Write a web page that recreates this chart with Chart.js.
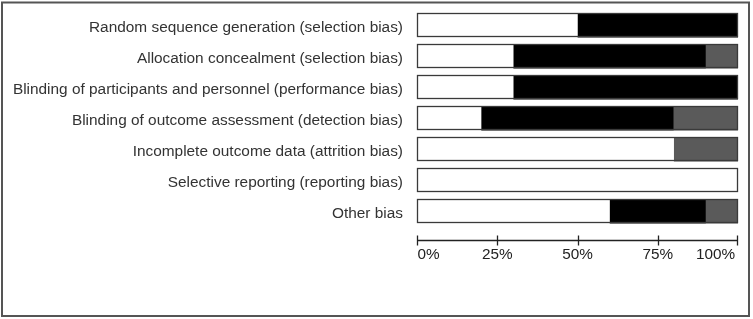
<!DOCTYPE html>
<html>
<head>
<meta charset="utf-8">
<script src="https://cdn.jsdelivr.net/npm/chart.js@4/dist/chart.umd.min.js"></script>
<style>
html,body{margin:0;padding:0;background:#fff;}
canvas{display:block;}
</style>
</head>
<body>
<canvas id="c" width="753" height="319"></canvas>
<script>
const categories = [
  "Random sequence generation (selection bias)",
  "Allocation concealment (selection bias)",
  "Blinding of participants and personnel (performance bias)",
  "Blinding of outcome assessment (detection bias)",
  "Incomplete outcome data (attrition bias)",
  "Selective reporting (reporting bias)",
  "Other bias"
];
const whiteValues = [50, 30, 30, 20, 80, 100, 60];
const blackValues = [50, 60, 70, 60, 0, 0, 30];
const grayValues  = [0, 10, 0, 20, 20, 0, 10];
const tickValues = [0, 25, 50, 75, 100];
const tickLabels = ["0%", "25%", "50%", "75%", "100%"];

const frameAndAxis = {
  id: 'frameAndAxis',
  beforeDraw(chart) {
    const ctx = chart.ctx;
    ctx.save();
    ctx.fillStyle = '#fff';
    ctx.fillRect(0, 0, chart.width, chart.height);
    ctx.strokeStyle = '#555';
    ctx.lineWidth = 2;
    ctx.strokeRect(2, 2.5, 747, 313.5);
    ctx.restore();
  },
  afterDatasetsDraw(chart) {
    const ctx = chart.ctx;
    const xs = chart.scales.x;
    const x0 = xs.getPixelForValue(0);
    const x1 = xs.getPixelForValue(100);
    const meta = chart.getDatasetMeta(0);
    ctx.save();
    ctx.strokeStyle = '#3a3a3a';
    ctx.lineWidth = 1.3;
    meta.data.forEach(el => {
      const top = el.y - el.height / 2;
      ctx.strokeRect(x0 + 0.5, Math.round(top) + 0.5, x1 - x0 - 1, Math.round(el.height) - 1);
    });
    // axis
    const ay = 240.5;
    ctx.strokeStyle = '#222';
    ctx.lineWidth = 1.3;
    ctx.beginPath();
    ctx.moveTo(x0, ay);
    ctx.lineTo(x1, ay);
    tickValues.forEach(v => {
      const px = Math.round(xs.getPixelForValue(v)) + (v === 100 ? -0.5 : 0.5);
      ctx.moveTo(px, ay - 5);
      ctx.lineTo(px, ay + 5);
    });
    ctx.stroke();
    ctx.fillStyle = '#222';
    ctx.font = '15.3px "Liberation Sans", Arial, sans-serif';
    ctx.textBaseline = 'alphabetic';
    tickValues.forEach((v, i) => {
      let px = xs.getPixelForValue(v);
      if (i === 0) { ctx.textAlign = 'left'; px += 0.5; }
      else if (i === tickValues.length - 1) { ctx.textAlign = 'right'; px -= 3; }
      else { ctx.textAlign = 'center'; }
      ctx.fillText(tickLabels[i], px, 259);
    });
    ctx.restore();
  }
};

new Chart(document.getElementById('c'), {
  type: 'bar',
  data: {
    labels: categories,
    datasets: [
      { label: 'Low', data: whiteValues, backgroundColor: '#ffffff', borderWidth: 0 },
      { label: 'High', data: blackValues, backgroundColor: '#000000', borderWidth: 0 },
      { label: 'Unclear', data: grayValues, backgroundColor: '#5a5a5a', borderWidth: 0 }
    ]
  },
  options: {
    indexAxis: 'y',
    responsive: false,
    devicePixelRatio: 1,
    animation: false,
    layout: { padding: { top: 10, bottom: 92, right: 15, left: 0 } },
    datasets: { bar: { categoryPercentage: 1, barPercentage: 0.775 } },
    plugins: { legend: { display: false }, tooltip: { enabled: false } },
    scales: {
      x: { stacked: true, min: 0, max: 100, display: false },
      y: {
        stacked: true,
        grid: { display: false, drawTicks: false },
        border: { display: false },
        ticks: {
          color: '#333',
          padding: 14,
          labelOffset: 2,
          font: { family: '"Liberation Sans", Arial, sans-serif', size: 15.4 }
        },
        afterFit(scale) {
          scale.width = 417;
          scale.paddingTop = 0;
          scale.paddingBottom = 0;
        }
      }
    }
  },
  plugins: [frameAndAxis]
});
</script>
</body>
</html>
